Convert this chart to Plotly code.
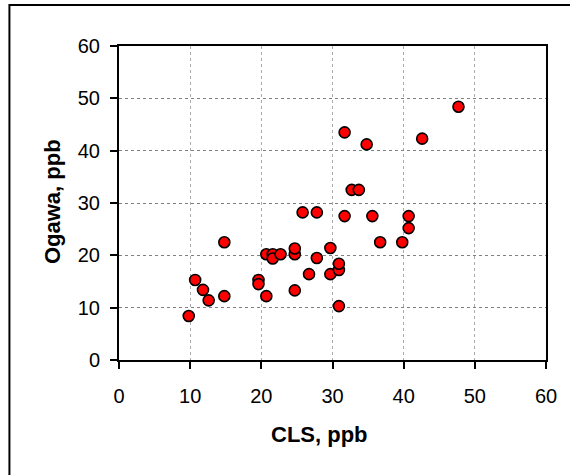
import plotly.graph_objects as go

cls_ppb = [9.8, 10.7, 11.8, 12.6, 14.8, 14.8, 19.6, 19.6, 20.7, 20.7,
           21.6, 21.6, 22.7, 24.7, 24.7, 24.7, 25.8, 26.7, 27.8, 27.8,
           29.7, 29.7, 30.9, 30.9, 30.9, 31.7, 31.7, 32.7, 33.7, 34.8,
           35.6, 36.7, 39.8, 40.7, 40.7, 42.6, 47.7]
ogawa_ppb = [8.4, 15.3, 13.4, 11.4, 22.5, 12.2, 15.3, 14.5, 12.2, 20.2,
             20.2, 19.4, 20.2, 20.2, 21.3, 13.3, 28.2, 16.4, 28.2, 19.5,
             21.4, 16.4, 17.2, 18.4, 10.3, 43.5, 27.5, 32.5, 32.5, 41.2,
             27.5, 22.5, 22.5, 27.5, 25.2, 42.3, 48.4]
tick_vals = [0, 10, 20, 30, 40, 50, 60]

W, H = 570, 475
L, R, T, B = 119, 546.5, 45.5, 360.5

fig = go.Figure()
fig.add_trace(go.Scatter(
    x=cls_ppb, y=ogawa_ppb, mode="markers",
    marker=dict(size=11, color="#FF0000", line=dict(color="black", width=1.6)),
    showlegend=False, cliponaxis=False,
))

tickfont = dict(family="Liberation Sans, Arial, sans-serif", size=20, color="black")
fig.update_xaxes(range=[0, 60], tickvals=tick_vals, ticks="outside", ticklen=7,
                 tickwidth=2, tickcolor="black", showline=True, linecolor="black",
                 linewidth=2, mirror=True, showgrid=True, gridcolor="#aaaaaa",
                 griddash="dot", gridwidth=1, zeroline=False, tickfont=tickfont,
                 ticklabelstandoff=10)
fig.update_yaxes(range=[0, 60], tickvals=tick_vals, ticks="outside", ticklen=7,
                 tickwidth=2, tickcolor="black", showline=True, linecolor="black",
                 linewidth=2, mirror=True, showgrid=True, gridcolor="#808080",
                 griddash="dot", gridwidth=1, zeroline=False, tickfont=tickfont,
                 ticklabelstandoff=6)

pw, ph = R - L, B - T
def px(xp):
    return (xp - L) / pw
def py(yp):
    return (B - yp) / ph

titlefont = dict(family="Liberation Sans, Arial, sans-serif", size=22, color="black")
fig.add_annotation(text="<b>CLS, ppb</b>", xref="paper", yref="paper",
                   x=px(320), y=py(435), showarrow=False, font=titlefont,
                   xanchor="center", yanchor="middle")
fig.add_annotation(text="<b>Ogawa, ppb</b>", xref="paper", yref="paper",
                   x=px(52), y=py(202), showarrow=False, font=titlefont,
                   textangle=-90, xanchor="center", yanchor="middle")

fig.add_shape(type="rect", xref="paper", yref="paper",
              x0=px(9.3), x1=px(620), y0=py(520), y1=py(4.3),
              line=dict(color="black", width=2), fillcolor="rgba(0,0,0,0)",
              layer="above")

fig.update_layout(width=W, height=H, margin=dict(l=L, r=W - R, t=T, b=H - B),
                  paper_bgcolor="white", plot_bgcolor="white")
fig.write_html("out.html", config={"displayModeBar": False},
               post_script="document.body.style.margin='0';"
                           "document.documentElement.style.overflow='hidden';"
                           "document.body.style.overflow='hidden';")
